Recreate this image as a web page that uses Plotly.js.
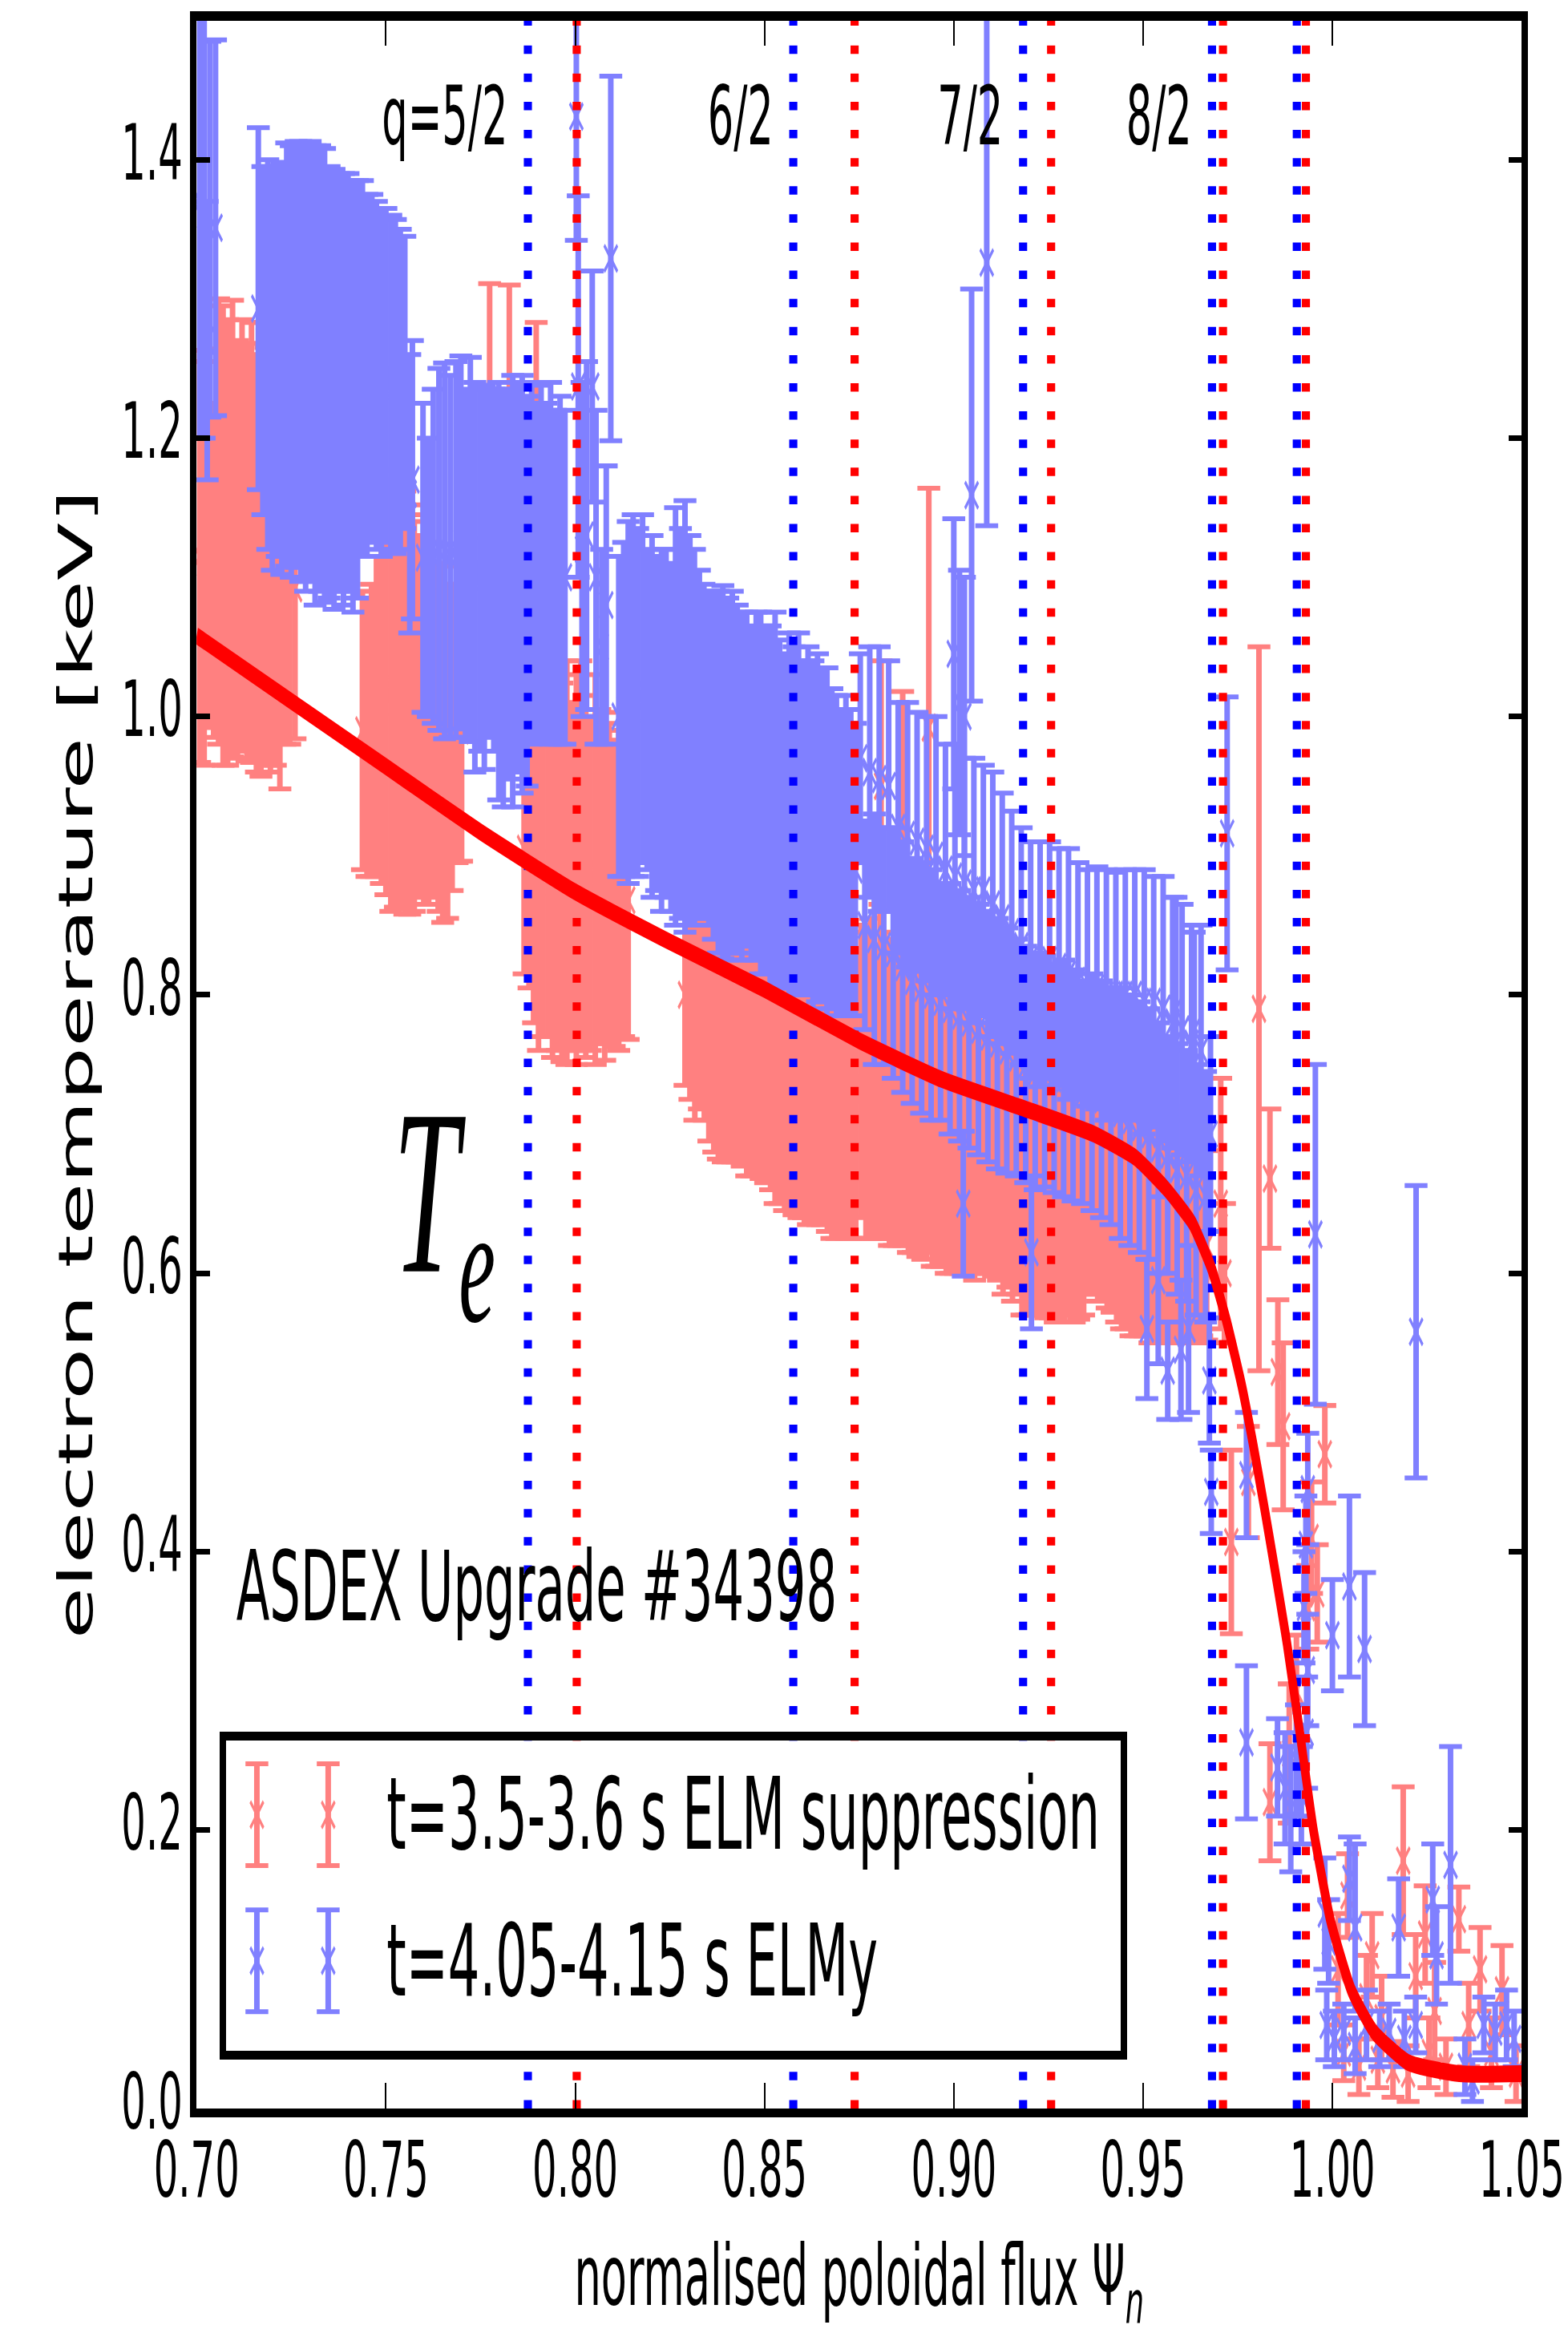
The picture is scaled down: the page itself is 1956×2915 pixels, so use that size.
<!DOCTYPE html>
<html>
<head>
<meta charset="utf-8">
<title>ASDEX Upgrade #34398 electron temperature profiles</title>
<script src="https://cdn.plot.ly/plotly-3.0.1.min.js"></script>
<style>
  html, body { margin: 0; padding: 0; background: #fff; overflow: hidden; }
  #frame { width: 1956px; height: 2915px; overflow: hidden; position: relative; }
  /* the figure is laid out on a 2608x1943 canvas and stretched to the page,
     which gives the tall, narrow lettering of the original plot */
  #chart { width: 2608px; height: 1943px; transform-origin: 0 0; transform: scale(0.75, 1.500257); }
</style>
</head>
<body>
<div id="frame"><div id="chart"></div></div>
<script>
// ---------------- data ----------------
const xTicks = [0.70, 0.75, 0.80, 0.85, 0.90, 0.95, 1.00, 1.05];
const yTicks = [0.0, 0.2, 0.4, 0.6, 0.8, 1.0, 1.2, 1.4];
const xRange = [0.70, 1.05];
const yRange = [0.0, 1.5];

const seriesNames = ['t=3.5-3.6 s ELM suppression', 't=4.05-4.15 s ELMy'];

// rational surfaces q = 5/2 ... (ELMy: blue, ELM suppression: red)
const qLabels = ['q=5/2', '6/2', '7/2', '8/2'];
const qSurfElmy = [0.7875, 0.8576, 0.9183, 0.9682, 0.9906];
const qSurfSup  = [0.8004, 0.8738, 0.9257, 0.9711, 0.9930];

// fitted profile
const fitPsi = [0.700, 0.725, 0.750, 0.775, 0.800, 0.825, 0.850, 0.875, 0.897, 0.920, 0.937, 0.948, 0.956, 0.963,
                0.968, 0.972, 0.976, 0.979, 0.982, 0.9845, 0.988, 0.9915, 0.995, 0.9995, 1.005, 1.011, 1.020, 1.0335, 1.050];
const fitTe  = [1.058, 1.011, 0.964, 0.917, 0.874, 0.838, 0.804, 0.767, 0.739, 0.717, 0.700, 0.683, 0.661, 0.636,
                0.604, 0.566, 0.520, 0.478, 0.432, 0.392, 0.334, 0.268, 0.200, 0.135, 0.085, 0.055, 0.033, 0.025, 0.025];

// t = 3.5-3.6 s, ELM suppression
const supPsi = [
  0.7008,0.7020,0.7032,0.7045,0.7058,0.7070,0.7082,0.7095,0.7108,0.7120,0.7133,0.7145,0.7158,0.7170,0.7183,0.7195,0.7208,0.7220,0.7233,0.7246,0.7260,
  0.7438,0.7450,0.7462,0.7475,0.7488,0.7500,0.7513,0.7525,0.7538,0.7550,0.7563,0.7575,0.7588,0.7600,0.7613,0.7625,0.7638,0.7650,0.7663,0.7675,0.7688,0.7700,
  0.7774,0.7826,0.7897,
  0.7865,0.7878,0.7890,0.7903,0.7915,0.7928,0.7940,0.7953,0.7965,0.7978,0.7990,0.8003,0.8015,0.8028,0.8040,0.8053,0.8065,0.8078,0.8090,0.8103,0.8115,0.8128,0.8140,
  0.8290,0.8303,0.8316,0.8328,0.8341,0.8353,0.8366,0.8378,0.8391,0.8403,0.8416,0.8428,0.8441,0.8453,0.8466,0.8478,0.8491,0.8503,0.8516,0.8528,
  0.8541,0.8553,0.8566,0.8578,0.8591,0.8603,0.8616,0.8628,0.8641,0.8653,0.8666,0.8678,0.8691,0.8703,0.8716,0.8728,0.8741,
  0.8755,0.8768,0.8780,0.8793,0.8805,0.8818,0.8830,0.8843,0.8855,0.8868,0.8880,0.8893,0.8905,0.8918,0.8930,0.8943,0.8955,0.8968,0.8980,0.8993,
  0.9005,0.9018,0.9030,0.9043,0.9055,0.9068,0.9080,0.9093,0.9105,0.9118,0.9130,0.9143,0.9155,0.9168,0.9180,0.9193,0.9205,0.9218,0.9230,0.9243,
  0.9255,0.9268,0.9280,0.9293,0.9305,0.9318,0.9330,0.9343,0.9355,0.9368,0.9380,0.9393,0.9405,0.9418,0.9430,0.9443,0.9455,0.9468,0.9480,0.9493,
  0.9505,0.9518,0.9530,0.9543,0.9555,0.9568,0.9580,0.9593,0.9605,0.9618,0.9630,0.9643,0.9655,0.9668,
  0.8808,0.8865,0.8934,
  0.9705,0.9715,0.9733,0.9778,0.9806,0.9835,0.9856,0.9835,0.9870,0.9886,0.9905,0.9935,0.9945,0.9960,0.9980,1.0015,1.0030,1.0040,1.0070,1.0090,
  1.0105,1.0120,1.0130,1.0160,1.0187,1.0200,1.0220,1.0245,1.0255,1.0270,1.0300,1.0334,1.0360,1.0390,1.0420,1.0448,1.0485
];
const supTe = [
  1.115,1.110,1.128,1.105,1.140,1.130,1.125,1.135,1.120,1.130,1.118,1.125,1.110,1.120,1.115,1.112,1.105,1.095,1.100,1.090,1.092,
  0.990,0.985,0.990,1.000,1.010,1.020,1.015,1.020,1.012,1.010,1.005,1.000,1.000,1.005,0.995,0.990,0.985,0.980,0.975,0.985,0.990,0.990,
  1.168,1.175,1.155,
  0.905,0.900,0.890,0.880,0.885,0.890,0.895,0.900,0.888,0.895,0.885,0.890,0.900,0.885,0.880,0.890,0.885,0.878,0.880,0.873,0.875,0.870,0.868,
  0.800,0.795,0.790,0.795,0.800,0.790,0.785,0.782,0.790,0.775,0.780,0.770,0.775,0.765,0.770,0.760,0.765,0.755,0.760,0.755,
  0.750,0.755,0.745,0.750,0.745,0.740,0.745,0.738,0.740,0.735,0.738,0.730,0.735,0.728,0.730,0.725,0.728,
  0.745,0.735,0.740,0.730,0.745,0.735,0.730,0.740,0.725,0.730,0.720,0.725,0.720,0.730,0.715,0.710,0.720,0.705,0.710,0.705,
  0.700,0.710,0.700,0.705,0.695,0.700,0.690,0.700,0.695,0.690,0.685,0.690,0.680,0.685,0.675,0.680,0.670,0.675,0.670,0.665,
  0.670,0.665,0.660,0.665,0.670,0.660,0.665,0.660,0.665,0.670,0.660,0.665,0.655,0.660,0.655,0.650,0.655,0.650,0.645,0.650,
  0.645,0.640,0.645,0.640,0.635,0.640,0.630,0.635,0.630,0.625,0.630,0.620,0.625,0.620,
  0.950,0.930,0.992,
  0.650,0.600,0.407,0.450,0.790,0.668,0.529,0.220,0.490,0.255,0.300,0.360,0.410,0.370,0.470,0.100,0.040,0.153,0.030,0.080,
  0.110,0.035,0.065,0.028,0.178,0.025,0.095,0.125,0.040,0.070,0.030,0.136,0.060,0.100,0.040,0.085,0.025
];
const supErr = [
  0.148,0.145,0.136,0.120,0.160,0.165,0.160,0.164,0.150,0.155,0.150,0.158,0.150,0.163,0.150,0.152,0.140,0.147,0.120,0.110,0.108,
  0.100,0.100,0.105,0.115,0.130,0.148,0.155,0.157,0.150,0.152,0.147,0.140,0.130,0.140,0.130,0.120,0.125,0.128,0.120,0.110,0.095,0.094,
  0.143,0.135,0.128,
  0.090,0.095,0.110,0.120,0.115,0.120,0.140,0.140,0.136,0.145,0.125,0.140,0.140,0.130,0.120,0.140,0.120,0.125,0.115,0.110,0.115,0.100,0.100,
  0.065,0.070,0.080,0.077,0.090,0.095,0.098,0.100,0.110,0.095,0.100,0.090,0.098,0.095,0.100,0.090,0.097,0.090,0.100,0.105,
  0.100,0.110,0.100,0.108,0.105,0.100,0.110,0.100,0.105,0.100,0.108,0.105,0.110,0.100,0.105,0.100,0.103,
  0.105,0.110,0.115,0.105,0.120,0.110,0.110,0.120,0.105,0.110,0.105,0.110,0.108,0.120,0.100,0.105,0.115,0.100,0.110,0.105,
  0.100,0.110,0.100,0.105,0.100,0.100,0.090,0.100,0.097,0.095,0.100,0.100,0.100,0.100,0.105,0.110,0.100,0.105,0.100,0.097,
  0.102,0.100,0.095,0.100,0.100,0.095,0.098,0.090,0.080,0.085,0.080,0.085,0.080,0.088,0.090,0.090,0.095,0.095,0.090,0.095,
  0.090,0.090,0.095,0.090,0.085,0.090,0.080,0.085,0.080,0.075,0.080,0.070,0.070,0.068,
  0.090,0.088,0.172,
  0.090,0.050,0.066,0.040,0.260,0.050,0.052,0.042,0.060,0.050,0.040,0.030,0.040,0.035,0.035,0.040,0.020,0.030,0.020,0.030,
  0.030,0.020,0.030,0.020,0.053,0.020,0.030,0.035,0.025,0.035,0.020,0.023,0.030,0.030,0.025,0.032,0.020
];

// t = 4.05-4.15 s, ELMy H-mode
const elmyPsi = [
  0.7008,0.7020,0.7035,0.7050,0.7028,
  0.7163,0.7175,0.7188,0.7200,0.7213,0.7225,0.7238,0.7250,0.7263,0.7275,0.7288,0.7300,0.7313,0.7325,0.7338,0.7350,
  0.7363,0.7375,0.7388,0.7400,0.7413,0.7425,0.7438,0.7450,0.7463,0.7475,0.7488,0.7500,0.7513,0.7525,0.7538,0.7550,
  0.7563,0.7570,
  0.7598,0.7612,0.7625,0.7640,0.7655,0.7670,0.7685,0.7698,0.7710,0.7723,0.7735,0.7748,0.7760,0.7773,0.7785,
  0.7798,0.7810,0.7823,0.7835,0.7848,0.7860,0.7873,0.7885,0.7898,0.7910,0.7923,0.7935,0.7948,0.7960,0.7973,
  0.8003,0.8008,0.8018,0.8030,0.8045,0.8055,0.8070,0.8082,0.8094,
  0.8115,0.8128,0.8140,0.8153,0.8165,0.8178,0.8190,0.8203,0.8215,0.8228,
  0.8240,0.8253,0.8265,0.8278,0.8290,0.8303,0.8315,0.8328,0.8340,0.8353,
  0.8365,0.8378,0.8390,0.8403,0.8415,0.8428,0.8440,0.8453,0.8465,0.8478,
  0.8490,0.8503,0.8515,0.8528,0.8540,0.8553,0.8565,0.8578,0.8590,0.8603,
  0.8615,0.8628,0.8640,0.8653,0.8665,0.8678,0.8690,0.8703,0.8715,0.8728,0.8740,
  0.8753,0.8765,0.8778,0.8790,0.8803,0.8815,0.8828,0.8840,0.8853,0.8865,
  0.8878,0.8890,0.8903,0.8915,0.8928,0.8940,0.8953,0.8965,0.8978,0.8990,
  0.9003,0.9015,0.9028,0.9040,0.9053,0.9065,0.9078,0.9090,0.9103,0.9115,
  0.9128,0.9140,0.9153,0.9165,0.9178,0.9190,0.9203,0.9215,0.9228,0.9240,
  0.9253,0.9265,0.9278,0.9290,0.9303,0.9315,0.9328,0.9340,0.9353,0.9365,
  0.9378,0.9390,0.9403,0.9415,0.9428,0.9440,0.9453,0.9465,0.9478,0.9490,
  0.9503,0.9515,0.9528,0.9540,0.9553,0.9565,0.9578,0.9590,0.9603,0.9615,
  0.9628,0.9640,0.9653,0.9665,0.9678,
  0.9000,0.9015,0.9025,0.9028,0.9047,0.9087,0.9205,0.9510,0.9540,0.9565,0.9587,0.9600,0.9620,0.9635,0.9675,0.9680,
  0.9722,0.9773,0.9773,0.9855,0.9875,0.9890,0.9905,0.9918,0.9925,0.9930,0.9932,0.9935,0.9935,0.9955,0.9980,0.9985,0.9990,1.0000,1.0005,1.0030,
  1.0045,1.0045,1.0060,1.0060,1.0085,1.0090,1.0125,1.0150,1.0175,1.0190,1.0221,1.0220,1.0265,1.0275,1.0312,1.0350,1.0370,1.0400,1.0430,1.0460,1.0480
];
const elmyTe = [
  1.370,1.360,1.350,1.351,1.270,
  1.293,1.270,1.260,1.250,1.255,1.250,1.260,1.255,1.260,1.255,1.250,1.255,1.245,1.250,1.245,1.240,
  1.235,1.240,1.235,1.240,1.230,1.235,1.250,1.245,1.250,1.245,1.240,1.245,1.240,1.237,1.235,1.240,
  1.160,1.170,
  1.114,1.100,1.115,1.120,1.119,1.115,1.120,1.125,1.110,1.120,1.100,1.105,1.100,1.110,1.105,
  1.090,1.085,1.095,1.090,1.100,1.095,1.090,1.110,1.105,1.110,1.105,1.110,1.100,1.105,1.100,
  1.431,1.237,1.120,1.130,1.237,1.100,1.050,1.080,1.329,
  1.000,1.005,1.010,1.015,1.010,1.020,1.005,1.000,0.995,0.990,
  0.995,0.985,1.000,0.995,1.000,0.990,0.985,0.980,0.975,0.970,
  0.965,0.960,0.960,0.955,0.960,0.955,0.950,0.955,0.945,0.950,
  0.945,0.940,0.935,0.940,0.930,0.925,0.930,0.925,0.930,0.920,
  0.925,0.915,0.920,0.915,0.910,0.905,0.900,0.895,0.900,0.895,0.890,
  0.970,0.850,0.960,0.840,0.955,0.835,0.950,0.830,0.920,0.820,
  0.915,0.810,0.910,0.805,0.905,0.800,0.900,0.795,0.890,0.790,
  0.885,0.785,0.880,0.780,0.875,0.775,0.875,0.770,0.865,0.765,
  0.855,0.760,0.845,0.755,0.835,0.750,0.825,0.745,0.822,0.745,
  0.825,0.740,0.820,0.740,0.815,0.735,0.810,0.730,0.805,0.730,
  0.805,0.725,0.800,0.720,0.800,0.715,0.800,0.710,0.800,0.705,
  0.795,0.700,0.795,0.690,0.790,0.685,0.780,0.675,0.775,0.670,
  0.765,0.660,0.760,0.655,0.700,
  1.045,1.010,0.650,1.000,1.159,1.326,0.615,0.560,0.595,0.530,0.790,0.545,0.560,0.775,0.523,0.443,
  0.916,0.455,0.263,0.245,0.230,0.215,0.250,0.225,0.360,0.405,0.270,0.315,0.445,0.628,0.140,0.060,0.120,0.340,0.050,0.055,
  0.375,0.165,0.045,0.130,0.330,0.060,0.050,0.055,0.130,0.050,0.558,0.060,0.150,0.110,0.175,0.030,0.020,0.060,0.055,0.060,0.050
];
const elmyErr = [
  0.170,0.160,0.135,0.135,0.100,
  0.130,0.125,0.140,0.145,0.140,0.148,0.152,0.155,0.153,0.158,0.160,0.158,0.165,0.160,0.163,0.155,
  0.158,0.150,0.155,0.150,0.155,0.150,0.135,0.130,0.125,0.125,0.125,0.120,0.120,0.120,0.115,0.105,
  0.100,0.100,
  0.111,0.100,0.120,0.130,0.135,0.130,0.135,0.134,0.125,0.138,0.140,0.130,0.138,0.125,0.130,
  0.150,0.150,0.140,0.155,0.140,0.150,0.140,0.130,0.120,0.128,0.120,0.130,0.120,0.125,0.120,
  0.089,0.137,0.120,0.125,0.083,0.120,0.070,0.100,0.131,
  0.115,0.120,0.130,0.130,0.125,0.125,0.115,0.130,0.120,0.130,
  0.125,0.125,0.150,0.140,0.155,0.140,0.135,0.125,0.120,0.120,
  0.125,0.130,0.134,0.130,0.130,0.125,0.125,0.120,0.120,0.125,
  0.130,0.125,0.130,0.135,0.125,0.120,0.130,0.125,0.130,0.120,
  0.125,0.125,0.125,0.120,0.125,0.115,0.115,0.110,0.115,0.110,0.105,
  0.075,0.075,0.090,0.090,0.095,0.085,0.090,0.090,0.090,0.090,
  0.095,0.088,0.093,0.090,0.095,0.090,0.100,0.085,0.090,0.090,
  0.095,0.090,0.090,0.090,0.095,0.090,0.090,0.090,0.095,0.090,
  0.090,0.088,0.087,0.085,0.085,0.085,0.085,0.085,0.088,0.083,
  0.085,0.082,0.085,0.085,0.090,0.083,0.085,0.080,0.085,0.085,
  0.087,0.085,0.090,0.085,0.088,0.090,0.090,0.090,0.090,0.090,
  0.095,0.090,0.090,0.090,0.095,0.085,0.090,0.090,0.090,0.090,
  0.085,0.090,0.090,0.090,0.070,
  0.097,0.095,0.052,0.100,0.148,0.189,0.055,0.050,0.060,0.035,0.080,0.050,0.060,0.070,0.045,0.030,
  0.098,0.045,0.055,0.035,0.040,0.045,0.040,0.035,0.040,0.035,0.040,0.040,0.040,0.122,0.040,0.025,0.030,0.040,0.020,0.020,
  0.065,0.030,0.020,0.060,0.055,0.025,0.020,0.020,0.035,0.020,0.105,0.020,0.040,0.035,0.085,0.020,0.015,0.020,0.020,0.025,0.020
];

// ---------------- styling ----------------
const SUP_COLOR = '#ff8080';
const ELMY_COLOR = '#8080ff';
const FONT = 'DejaVu Sans';

// error bars are drawn in two passes: heavy vertical strokes without caps,
// then thin caps and the 'x' markers on top
function barStrokes(x, y, e, color, xa, ya) {
  return {
    type: 'scatter', mode: 'markers', x: x, y: y, xaxis: xa, yaxis: ya,
    marker: { size: 1, opacity: 0, color: color },
    error_y: { type: 'data', array: e, visible: true, color: color, thickness: 9.3, width: 0 },
    hoverinfo: 'skip', showlegend: false
  };
}
function barCaps(x, y, e, color, xa, ya) {
  return {
    type: 'scatter', mode: 'markers', x: x, y: y, xaxis: xa, yaxis: ya,
    marker: { symbol: 'x-thin', size: 22, color: color, line: { color: color, width: 3.5 } },
    error_y: { type: 'data', array: e, visible: true, color: color, thickness: 4, width: 19 },
    hoverinfo: 'skip', showlegend: false
  };
}

function surfaceTrace(psiList, color) {
  const x = [], y = [];
  psiList.forEach(function (v) { x.push(v, v, null); y.push(yRange[0], yRange[1], null); });
  return {
    type: 'scatter', mode: 'lines', x: x, y: y,
    line: { color: color, width: 13.5, dash: '7px,16.4px' },
    hoverinfo: 'skip', showlegend: false
  };
}

// legend key: two error-bar glyphs per entry, drawn in a small inset axis
const keyX = [0.0345, 0.1142];
const keyRowY = [0.7616, 0.291];
const keyErr = 0.164;

const traces = [
  barStrokes(supPsi, supTe, supErr, SUP_COLOR, 'x', 'y'),
  barCaps(supPsi, supTe, supErr, SUP_COLOR, 'x', 'y'),
  barStrokes(elmyPsi, elmyTe, elmyErr, ELMY_COLOR, 'x', 'y'),
  barCaps(elmyPsi, elmyTe, elmyErr, ELMY_COLOR, 'x', 'y'),
  surfaceTrace(qSurfElmy, '#0000ff'),
  surfaceTrace(qSurfSup, '#ff0000'),
  {
    type: 'scatter', mode: 'lines', x: fitPsi, y: fitTe,
    line: { color: '#ff0000', width: 14, shape: 'spline', smoothing: 0.5 },
    hoverinfo: 'skip', showlegend: false
  }
];
[SUP_COLOR, ELMY_COLOR].forEach(function (c, i) {
  const ky = [keyRowY[i], keyRowY[i]], ke = [keyErr, keyErr];
  traces.push(barStrokes(keyX, ky, ke, c, 'x2', 'y2'));
  traces.push(barCaps(keyX, ky, ke, c, 'x2', 'y2'));
});

const annotations = [];
qLabels.forEach(function (lab, i) {
  annotations.push({
    x: qSurfElmy[i] - 0.005, y: 1.431, xref: 'x', yref: 'y', text: lab, showarrow: false,
    xanchor: 'right', yanchor: 'middle', font: { family: FONT, size: 68, color: '#000' }
  });
});
annotations.push({
  x: 0.7101, y: 0.375, xref: 'x', yref: 'y', text: 'ASDEX Upgrade #34398', showarrow: false,
  xanchor: 'left', yanchor: 'middle', font: { family: FONT, size: 81, color: '#000' }
});
annotations.push({
  x: 0.7516, y: 0.646, xref: 'x', yref: 'y', text: '<i>T</i><sub><i>e</i></sub>', showarrow: false,
  xanchor: 'left', yanchor: 'middle', font: { family: 'Liberation Serif', size: 196, color: '#000' }
});
seriesNames.forEach(function (name, i) {
  annotations.push({
    x: 0.178, y: keyRowY[i], xref: 'x2', yref: 'y2', text: name, showarrow: false,
    xanchor: 'left', yanchor: 'middle', font: { family: FONT, size: 83, color: '#000' }
  });
});

const layout = {
  width: 2608, height: 1943,
  margin: { l: 327, r: 77, t: 17, b: 190, pad: 0 },
  paper_bgcolor: '#ffffff', plot_bgcolor: '#ffffff',
  showlegend: false,
  font: { family: FONT, color: '#000' },
  xaxis: {
    range: xRange, tickvals: xTicks, tickformat: '.2f',
    ticks: 'inside', ticklen: 21, tickwidth: 2.7, tickcolor: '#000',
    showline: true, linewidth: 7.5, linecolor: '#000', mirror: 'ticks',
    showgrid: false, zeroline: false, automargin: false,
    ticklabelstandoff: -11,
    tickfont: { family: FONT, size: 64, color: '#000' },
    title: { text: 'normalised poloidal flux Ψ<sub><i>n</i></sub>', font: { family: FONT, size: 70, color: '#000' }, standoff: 41 }
  },
  yaxis: {
    range: yRange, tickvals: yTicks, tickformat: '.1f',
    ticks: 'inside', ticklen: 22, tickwidth: 4.7, tickcolor: '#000',
    showline: true, linewidth: 10.6, linecolor: '#000', mirror: 'ticks',
    showgrid: false, zeroline: false, automargin: false,
    ticklabelshift: -6,
    tickfont: { family: FONT, size: 64, color: '#000' },
    title: { text: 'electron temperature [keV]', font: { family: 'DejaVu Sans Condensed, DejaVu Sans', size: 78, color: '#000' }, standoff: 27 }
  },
  xaxis2: {
    domain: [0.0222, 0.6974], anchor: 'y2', range: [0, 1],
    showline: true, linewidth: 7.3, linecolor: '#000', mirror: true,
    showgrid: false, zeroline: false, showticklabels: false, ticks: '', fixedrange: true
  },
  yaxis2: {
    domain: [0.0275, 0.1761], anchor: 'x2', range: [0, 1],
    showline: true, linewidth: 10.6, linecolor: '#000', mirror: true,
    showgrid: false, zeroline: false, showticklabels: false, ticks: '', fixedrange: true
  },
  annotations: annotations
};

Plotly.newPlot('chart', traces, layout, { staticPlot: true, displayModeBar: false });
</script>
</body>
</html>
